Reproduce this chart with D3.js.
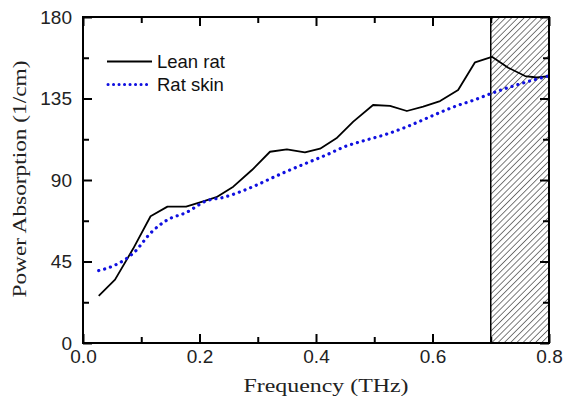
<!DOCTYPE html>
<html><head><meta charset="utf-8">
<script src="https://cdn.jsdelivr.net/npm/d3@7"></script>
<style>body{margin:0;background:#fff}svg{display:block}</style>
</head><body>
<svg id="c" width="564" height="406"></svg>
<script>
const leanX = [0.027,0.055,0.086,0.116,0.145,0.177,0.205,0.229,0.258,0.290,0.321,0.350,0.381,0.407,0.435,0.464,0.498,0.527,0.556,0.584,0.613,0.644,0.673,0.702,0.730,0.759,0.779,0.800];
const leanY = [26,35,52,70,75.3,75.3,78,80.5,86.3,95.5,105.6,106.9,105.3,107.3,113,122.2,131.4,130.9,128.1,130.5,133.6,139.7,155,158,152,147.4,146.6,147.4];
const skinX = [0.027,0.055,0.089,0.116,0.145,0.177,0.212,0.241,0.270,0.298,0.327,0.355,0.385,0.421,0.450,0.480,0.521,0.556,0.590,0.613,0.641,0.670,0.702,0.730,0.760,0.800];
const skinY = [40,43,50.4,60.7,68,72,78.5,80.4,83.5,87.2,91.5,95.5,99.5,104.3,108.5,111.5,115.3,119.4,124.1,127.3,130.9,134,137.9,141,144,147.5];
const xTicks = [0,0.2,0.4,0.6,0.8];
const xTickLabels = ["0.0","0.2","0.4","0.6","0.8"];
const xMinor = [0.1,0.3,0.5,0.7];
const yTicks = [0,45,90,135,180];
const yMinor = [22.5,67.5,112.5,157.5];
const shadeRange = [0.7,0.8];
const seriesNames = ["Lean rat","Rat skin"];

const svg = d3.select("#c");
const L=83, R=549, T=17, B=343;
const x = d3.scaleLinear().domain([0,0.8]).range([L,R]);
const y = d3.scaleLinear().domain([0,180]).range([B,T]);

const defs = svg.append("defs");
const pat = defs.append("pattern").attr("id","hatch").attr("patternUnits","userSpaceOnUse")
  .attr("width",4.4).attr("height",4.4).attr("patternTransform","rotate(45)");
pat.append("line").attr("x1",0).attr("y1",-1).attr("x2",0).attr("y2",6).attr("stroke","#111").attr("stroke-width",1.1);

svg.append("rect").attr("x",x(shadeRange[0])).attr("y",T).attr("width",x(shadeRange[1])-x(shadeRange[0])).attr("height",B-T)
  .attr("fill","url(#hatch)").attr("stroke","#000").attr("stroke-width",1.5);

const line = d3.line().x(d=>x(d[0])).y(d=>y(d[1]));
svg.append("path").datum(leanX.map((v,i)=>[v,leanY[i]])).attr("d",line)
  .attr("fill","none").attr("stroke","#000").attr("stroke-width",1.8).attr("stroke-linejoin","round");
svg.append("path").datum(skinX.map((v,i)=>[v,skinY[i]])).attr("d",d3.line().curve(d3.curveMonotoneX).x(d=>x(d[0])).y(d=>y(d[1])))
  .attr("fill","none").attr("stroke","#1010e0").attr("stroke-width",3.2).attr("stroke-linecap","round").attr("stroke-dasharray","0.1 6");

// axes
const font = "'Liberation Sans', Arial, sans-serif";
const axB = svg.append("g").attr("transform",`translate(0,${B})`).call(d3.axisBottom(x).tickValues(xTicks).tickSize(-9).tickFormat((d,i)=>xTickLabels[i]));
svg.append("g").attr("transform",`translate(0,${B})`).call(d3.axisBottom(x).tickValues(xMinor).tickSize(-6).tickFormat(""));
svg.append("g").attr("transform",`translate(0,${T})`).call(d3.axisTop(x).tickValues(xTicks).tickSize(-9).tickFormat(""));
svg.append("g").attr("transform",`translate(0,${T})`).call(d3.axisTop(x).tickValues(xMinor).tickSize(-6).tickFormat(""));
const axL = svg.append("g").attr("transform",`translate(${L},0)`).call(d3.axisLeft(y).tickValues(yTicks).tickSize(-9).tickFormat(d3.format("d")));
svg.append("g").attr("transform",`translate(${L},0)`).call(d3.axisLeft(y).tickValues(yMinor).tickSize(-6).tickFormat(""));
svg.append("g").attr("transform",`translate(${R},0)`).call(d3.axisRight(y).tickValues(yTicks).tickSize(-9).tickFormat(""));
svg.append("g").attr("transform",`translate(${R},0)`).call(d3.axisRight(y).tickValues(yMinor).tickSize(-6).tickFormat(""));
svg.selectAll(".domain").remove();
svg.selectAll(".tick line").attr("stroke","#000").attr("stroke-width",2);
axB.selectAll("text").attr("font-family",font).attr("font-size",19).attr("fill","#222").attr("y",0).attr("dy",null).attr("transform","translate(0,20)");
axL.selectAll("text").attr("font-family",font).attr("font-size",19).attr("fill","#222").attr("x",-11).attr("dy","0.33em");

svg.append("rect").attr("x",L).attr("y",T).attr("width",R-L).attr("height",B-T).attr("fill","none").attr("stroke","#000").attr("stroke-width",2);

// axis titles
const serif = "'Liberation Serif','DejaVu Serif',serif";
svg.append("text").attr("x",326).attr("y",392).attr("text-anchor","middle").attr("font-family",serif).attr("font-size",19.5)
  .attr("fill","#222").attr("textLength",165).attr("lengthAdjust","spacingAndGlyphs").text("Frequency (THz)");
svg.append("text").attr("transform","translate(26,179) rotate(-90)").attr("text-anchor","middle").attr("font-family",serif).attr("font-size",19.5)
  .attr("fill","#222").attr("textLength",237).attr("lengthAdjust","spacingAndGlyphs").text("Power Absorption (1/cm)");

// legend
const lg = svg.append("g");
lg.append("line").attr("x1",107).attr("x2",152).attr("y1",61.5).attr("y2",61.5).attr("stroke","#000").attr("stroke-width",1.8);
lg.append("line").attr("x1",108).attr("x2",152).attr("y1",84.5).attr("y2",84.5).attr("stroke","#1010e0").attr("stroke-width",3)
  .attr("stroke-linecap","round").attr("stroke-dasharray","0.1 5.4");
lg.append("text").attr("x",157).attr("y",68).attr("font-family",font).attr("font-size",18.5).attr("fill","#111").text(seriesNames[0]);
lg.append("text").attr("x",157).attr("y",91).attr("font-family",font).attr("font-size",18.5).attr("fill","#111").text(seriesNames[1]);
</script>
</body></html>
